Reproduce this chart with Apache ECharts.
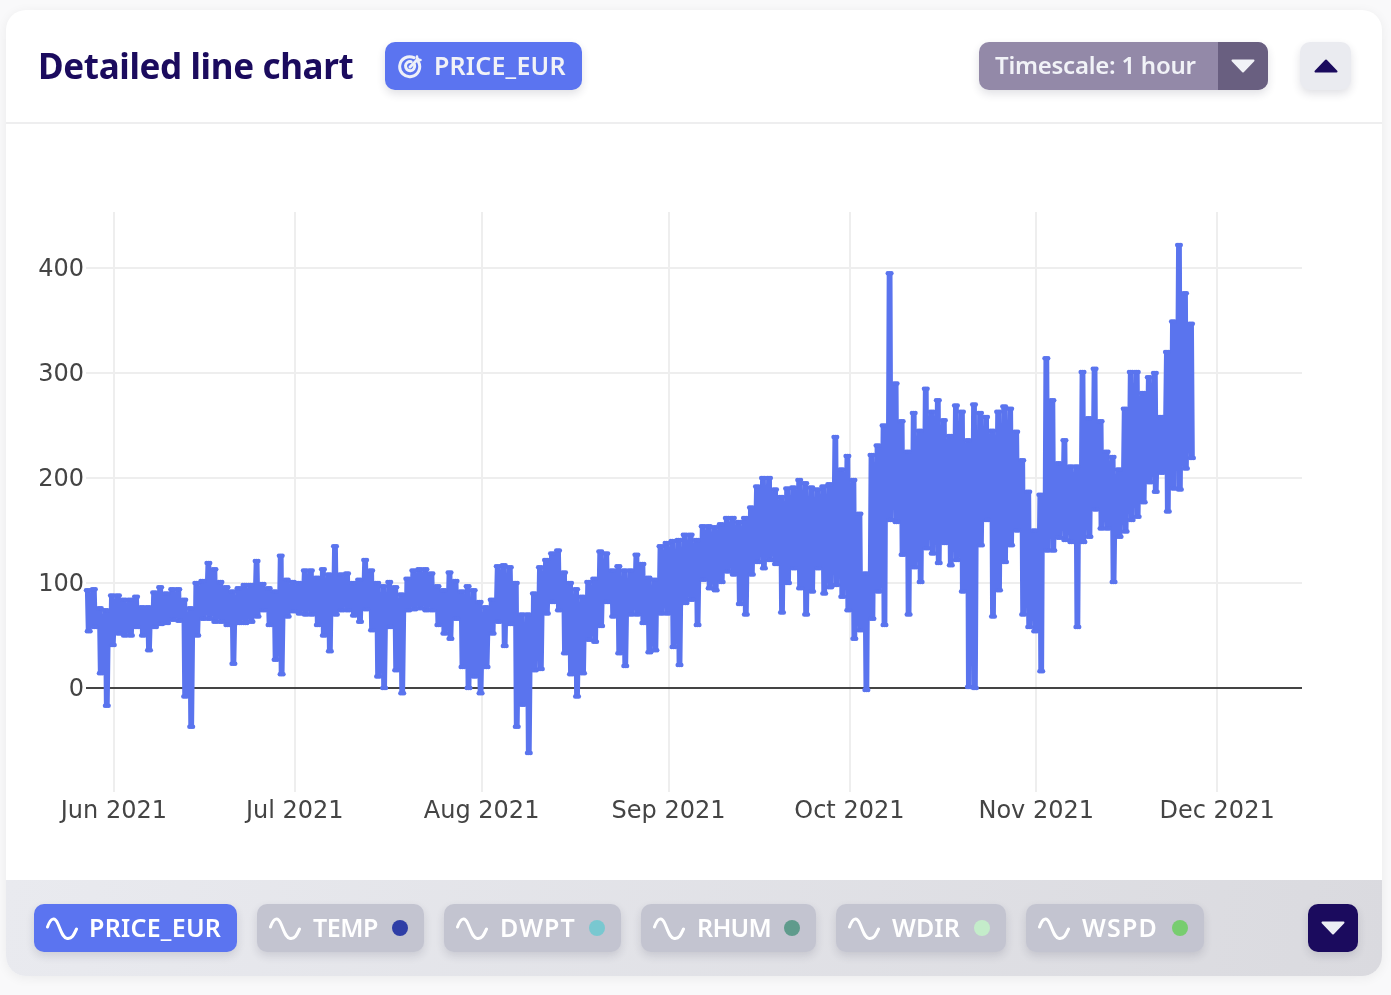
<!DOCTYPE html>
<html><head><meta charset="utf-8">
<script src="https://cdn.jsdelivr.net/npm/echarts@6/dist/echarts.min.js"></script>
<style>
html,body{margin:0;padding:0;width:1391px;height:995px;overflow:hidden;background:#f9f9fa;font-family:"Noto Sans",sans-serif}
.abs{position:absolute;box-sizing:border-box}
#card{left:6px;top:10px;width:1376px;height:966px;background:#fff;border-radius:20px;box-shadow:0 2px 12px rgba(0,0,0,.06);overflow:hidden}
#hr{left:6px;top:122px;width:1376px;height:2px;background:#eeeeef}
#foot{left:6px;top:880px;width:1376px;height:96px;border-radius:0 0 20px 20px;background:linear-gradient(100deg,#e9eaef,#dadadf)}
#chart{left:0;top:0;width:1391px;height:995px}
#title{left:38px;top:42px;height:48px;line-height:48px;font-size:35px;font-weight:700;color:#1b0b5e;white-space:nowrap;letter-spacing:-.35px}
.chip{display:flex;align-items:center;border-radius:10px;color:#f1f2f7;font-weight:600;white-space:nowrap;box-shadow:0 4px 8px rgba(40,40,70,.14);height:48px}
.sq{display:flex;align-items:center;justify-content:center}
.t{position:absolute;line-height:48px;top:-1px}
.dot{position:absolute;width:16px;height:16px;border-radius:50%;top:16px}
</style></head><body>
<div id="card" class="abs"></div>
<div id="hr" class="abs"></div>
<div id="foot" class="abs"></div>
<div id="chart" class="abs"></div>
<div id="title" class="abs">Detailed line chart</div>
<div class="abs chip" style="left:385px;top:42px;width:197px;background:#5b74f0;font-size:25px">
  <svg class="abs" style="left:13px;top:12px" width="25" height="25" viewBox="0 0 25 25" fill="none" stroke="#eef0f8" stroke-width="3" stroke-linecap="round"><path d="M20.5 8a10 10 0 1 1-4.5-4.3"/><path d="M16.6 11a4.6 4.6 0 1 1-3.4-3.4"/><path d="M12 13 L20 5"/><path d="M19 2.5v3.5h3.5" stroke-width="2.5"/></svg>
  <span class="t" style="left:49px;letter-spacing:.2px">PRICE_EUR</span>
</div>
<div class="abs chip" style="left:979px;top:42px;width:289px;background:#9389a8;font-size:24px;overflow:hidden">
  <span class="t" style="left:16px;letter-spacing:-.25px">Timescale: 1 hour</span>
  <div class="abs sq" style="left:239px;top:0;width:50px;height:48px;background:#695f80">
    <svg width="24" height="14" viewBox="0 0 24 14"><path d="M1.5 1.5H22.500L12 12.500Z" fill="#f1f2f7" stroke="#f1f2f7" stroke-width="2" stroke-linejoin="round"/></svg>
  </div>
</div>
<div class="abs chip sq" style="left:1300px;top:42px;width:51px;background:#eaebf0">
  <svg width="24" height="14" viewBox="0 0 24 14"><path d="M1.500 12.500H22.500L12 1.500Z" fill="#1b0b5e" stroke="#1b0b5e" stroke-width="2" stroke-linejoin="round"/></svg>
</div>
<div id="legend"></div>
<div class="abs chip sq" style="left:1308px;top:904px;width:50px;background:#1b0b5e">
  <svg width="24" height="14" viewBox="0 0 24 14"><path d="M1.500 1.500H22.500L12 12.500Z" fill="#eceef4" stroke="#eceef4" stroke-width="2" stroke-linejoin="round"/></svg>
</div>
<script>
// Values: upper and lower edge of the price band for each day.
const startDay = '2021-05-27T09:00:00Z';
const axisEnd = '2021-12-15T02:00:00Z';
const dailyHigh = [
93,94,76,74,88,88,84,84,87,77,77,91,96,90,94,94,84,76,100,102,119,113,101,96,92,95,98,98,121,99,
95,92,126,103,101,100,112,112,105,113,108,135,108,109,100,103,122,112,100,97,101,96,89,104,112,113,113,109,97,93,
110,102,92,97,93,82,77,84,116,117,115,100,70,70,90,115,122,128,131,110,100,94,87,101,104,130,128,112,116,112,
112,127,118,105,103,135,138,140,141,146,146,141,154,154,153,156,162,162,158,162,172,192,200,200,189,182,190,191,198,195,
191,189,192,194,239,208,221,198,166,109,222,231,250,395,290,254,225,262,245,285,263,274,255,240,269,263,236,270,262,258,
245,263,268,266,244,217,187,150,184,314,274,214,236,211,211,301,257,304,254,225,220,208,266,301,301,281,296,300,258,320,
349,422,376,347];
const dailyLow = [
54,58,14,-17,41,52,50,50,58,50,36,58,61,62,65,64,-8,-37,50,66,66,63,63,60,23,62,62,63,68,74,
60,27,13,68,73,71,70,70,60,50,35,70,74,74,69,63,75,55,11,0,58,17,-5,74,75,76,74,74,60,52,
47,66,20,0,11,-5,20,52,63,40,61,-37,-16,-62,17,18,71,82,74,33,13,-8,14,46,44,59,82,68,33,21,
70,70,62,34,36,71,71,39,22,81,84,60,103,95,93,101,111,108,80,70,108,120,114,122,118,72,100,114,95,70,
92,114,90,96,98,87,74,47,55,-2,66,92,60,160,158,127,70,115,101,133,128,119,138,117,122,92,1,0,136,160,
68,93,120,136,150,70,58,54,16,131,131,143,141,139,58,139,144,170,152,152,101,144,149,160,163,177,196,187,205,168,
190,189,209,219];
const yTicks = [0,100,200,300,400];
const xTicks = ['2021-06-01','2021-07-01','2021-08-01','2021-09-01','2021-10-01','2021-11-01','2021-12-01'];
const xTickLabels = ['Jun 2021','Jul 2021','Aug 2021','Sep 2021','Oct 2021','Nov 2021','Dec 2021'];
const legendNames = ['PRICE_EUR','TEMP','DWPT','RHUM','WDIR','WSPD'];
const legendDots = [null,'#2f3ea6','#79c8d0','#5f9b8c','#c4ecca','#77cd6f'];
const legendBoxes = [[34,203,55,.25],[257,167,56,-.5],[444,177,56,1.1],[641,175,56,-.7],[836,170,56,.1],[1026,178,56,1.2]];

const DAY = 86400000, t0 = Date.parse(startDay);
const points = [];
dailyHigh.forEach((h,i)=>{
  for (let k=0;k<3;k++){
    points.push([t0+(i+k*0.3)*DAY,h]);
    points.push([t0+(i+k*0.3+0.15)*DAY,dailyLow[i]]);
  }
});
const xTickTimes = xTicks.map(d=>Date.parse(d+'T00:00:00Z'));

const chart = echarts.init(document.getElementById('chart'),null,{renderer:'canvas'});
const fontFamily = '"DejaVu Sans",sans-serif';
chart.setOption({
  animation:false,
  backgroundColor:'transparent',
  grid:{left:86,right:89,top:212,bottom:203,containLabel:false},
  xAxis:{type:'value',min:t0,max:Date.parse(axisEnd),
    axisLine:{show:false},
    axisTick:{show:false,customValues:xTickTimes},
    splitLine:{show:true,lineStyle:{color:'#eeeeee',width:2}},
    axisLabel:{customValues:xTickTimes,margin:8,fontSize:24,color:'#444444',fontFamily,hideOverlap:false,
      formatter:v=>xTickLabels[xTickTimes.indexOf(+v)]||''}},
  yAxis:{type:'value',min:-99.05,max:453.33,
    axisLine:{show:false},
    axisTick:{show:false,customValues:yTicks},
    splitLine:{show:true,lineStyle:{color:'#eeeeee',width:2}},
    axisLabel:{customValues:yTicks,margin:2,fontSize:24,color:'#444444',fontFamily,verticalAlign:'top',lineHeight:4}},
  series:[{type:'line',name:'PRICE_EUR',data:points,z:3,clip:true,
    showSymbol:true,showAllSymbol:true,symbol:'circle',symbolSize:4.5,sampling:false,
    lineStyle:{color:'#5a74ee',width:2.2},itemStyle:{color:'#5a74ee'},
    markLine:{silent:true,z:1,symbol:'none',label:{show:false},animation:false,
      lineStyle:{color:'#444444',width:2,type:'solid'},data:[{yAxis:0}]}}]
});

const sine = c=>`<svg class="abs" style="left:12px;top:12px" width="32" height="24" viewBox="0 0 32 24" fill="none" stroke="${c}" stroke-width="3" stroke-linecap="round"><path d="M1.500 11C5 1 9 1 12 8S17 23 22 22.500 28 18 30.500 13"/></svg>`;
document.getElementById('legend').innerHTML = legendNames.map((n,i)=>{
  const [l,w,tx,ls]=legendBoxes[i], on=i===0;
  return `<div class="abs chip" style="left:${l}px;top:904px;width:${w}px;background:${on?'#5b74f0':'#c3c4d0'};font-size:25px;color:#fff">${sine('#fff')}<span class="t" style="left:${tx}px;letter-spacing:${ls}px">${n}</span>${legendDots[i]?`<span class="dot" style="right:16px;background:${legendDots[i]}"></span>`:''}</div>`;
}).join('');
</script>
</body></html>
